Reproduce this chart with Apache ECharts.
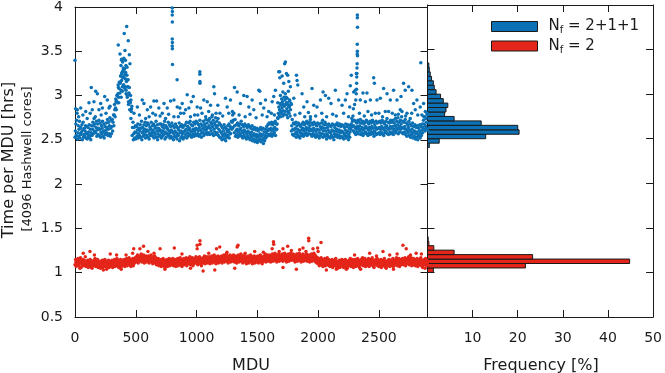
<!DOCTYPE html>
<html><head><meta charset="utf-8">
<script src="https://cdn.jsdelivr.net/npm/echarts@6/dist/echarts.min.js"></script>
<style>html,body{margin:0;padding:0;background:#fff}#c{width:665px;height:373px}</style>
</head><body><div id="c"></div>
<script>
// ---------- DATA ----------
const MDU_STEP = 10; // one value every 10 MDU, starting at MDU 0
const blueA = [
2.53,2.55,2.51,2.54,2.52,2.56,2.50,2.53,2.55,2.52,
2.51,2.54,2.52,2.50,2.55,2.57,2.60,2.58,2.54,2.56,
2.55,2.53,2.57,2.54,2.52,2.56,2.58,2.55,2.57,2.54,
2.57,2.60,2.66,2.76,2.84,2.92,2.98,3.03,3.06,3.10,
3.12,3.10,3.06,3.00,2.93,2.84,2.74,2.55,2.50,2.52,
2.51,2.54,2.52,2.55,2.53,2.50,2.54,2.56,2.52,2.55,
2.53,2.51,2.55,2.57,2.54,2.52,2.56,2.53,2.50,2.54,
2.55,2.52,2.54,2.56,2.51,2.53,2.57,2.55,2.52,2.54,
2.52,2.50,2.54,2.53,2.51,2.55,2.49,2.52,2.54,2.51,
2.53,2.56,2.52,2.54,2.57,2.55,2.53,2.56,2.54,2.57,
2.55,2.57,2.54,2.56,2.53,2.58,2.55,2.57,2.59,2.56,
2.58,2.56,2.60,2.57,2.55,2.59,2.56,2.58,2.55,2.53,
2.52,2.50,2.54,2.51,2.49,2.53,2.55,2.52,2.57,2.62,
2.64,2.58,2.54,2.56,2.53,2.55,2.57,2.54,2.52,2.55,
2.53,2.51,2.54,2.52,2.50,2.53,2.49,2.51,2.48,2.50,
2.47,2.49,2.51,2.48,2.50,2.46,2.49,2.52,2.54,2.56,
2.55,2.57,2.54,2.56,2.58,2.55,2.62,2.74,2.78,2.76,
2.80,2.77,2.79,2.82,2.78,2.75,2.80,2.77,2.60,2.56,
2.55,2.57,2.53,2.56,2.54,2.52,2.55,2.57,2.54,2.56,
2.58,2.55,2.57,2.60,2.56,2.54,2.57,2.55,2.53,2.56,
2.54,2.52,2.55,2.57,2.53,2.56,2.54,2.51,2.55,2.53,
2.52,2.55,2.53,2.50,2.54,2.56,2.53,2.55,2.52,2.54,
2.53,2.51,2.55,2.52,2.54,2.50,2.53,2.62,2.65,2.60,
2.58,2.56,2.59,2.57,2.60,2.56,2.58,2.55,2.57,2.59,
2.57,2.55,2.58,2.56,2.59,2.57,2.54,2.58,2.56,2.57,
2.58,2.56,2.59,2.57,2.55,2.58,2.60,2.57,2.56,2.59,
2.57,2.59,2.56,2.60,2.58,2.61,2.57,2.59,2.62,2.58,
2.57,2.59,2.56,2.54,2.58,2.55,2.53,2.56,2.52,2.54,
2.51,2.53,2.50,2.54,2.52,2.55,2.58,2.62,2.60,2.63,
2.61];
const blueB = [
2.60,2.72,2.58,2.62,2.57,2.59,2.61,2.56,2.60,2.58,
2.57,2.59,2.55,2.58,2.62,2.66,2.68,2.64,2.61,2.63,
2.62,2.59,2.63,2.60,2.58,2.61,2.64,2.62,2.66,2.63,
2.65,2.70,2.78,2.86,2.94,3.02,3.08,3.14,3.17,3.20,
3.22,3.19,3.16,3.10,3.03,2.94,2.82,2.64,2.57,2.59,
2.58,2.61,2.57,2.60,2.63,2.58,2.60,2.62,2.59,2.61,
2.60,2.57,2.62,2.59,2.61,2.58,2.63,2.60,2.57,2.60,
2.61,2.58,2.60,2.63,2.59,2.57,2.62,2.60,2.58,2.61,
2.59,2.57,2.60,2.58,2.56,2.61,2.58,2.60,2.57,2.59,
2.60,2.62,2.58,2.61,2.63,2.60,2.59,2.62,2.60,2.63,
2.62,2.60,2.64,2.61,2.59,2.63,2.61,2.65,2.62,2.64,
2.66,2.63,2.68,2.65,2.62,2.67,2.64,2.66,2.62,2.60,
2.58,2.56,2.60,2.57,2.55,2.59,2.61,2.58,2.63,2.70,
2.72,2.66,2.60,2.62,2.59,2.61,2.63,2.60,2.58,2.61,
2.59,2.57,2.60,2.58,2.56,2.59,2.55,2.57,2.54,2.56,
2.53,2.55,2.57,2.54,2.56,2.52,2.55,2.58,2.60,2.62,
2.61,2.63,2.60,2.62,2.64,2.61,2.68,2.80,2.84,2.82,
2.86,2.83,2.88,2.90,2.85,2.82,2.87,2.84,2.66,2.62,
2.61,2.63,2.59,2.62,2.60,2.58,2.61,2.63,2.60,2.62,
2.64,2.61,2.63,2.66,2.62,2.60,2.63,2.61,2.59,2.62,
2.61,2.58,2.62,2.64,2.60,2.63,2.60,2.57,2.61,2.59,
2.58,2.61,2.60,2.57,2.60,2.62,2.59,2.61,2.58,2.60,
2.59,2.57,2.61,2.58,2.60,2.56,2.59,2.68,2.71,2.66,
2.64,2.62,2.65,2.63,2.66,2.62,2.64,2.61,2.63,2.65,
2.63,2.61,2.64,2.62,2.65,2.63,2.60,2.64,2.62,2.63,
2.64,2.62,2.65,2.63,2.61,2.64,2.66,2.63,2.62,2.65,
2.63,2.65,2.62,2.66,2.64,2.67,2.63,2.65,2.68,2.64,
2.63,2.65,2.62,2.60,2.64,2.61,2.59,2.62,2.58,2.60,
2.57,2.59,2.56,2.60,2.58,2.61,2.64,2.68,2.66,2.70,
2.67];
const blueC = [
2.68,2.80,2.66,2.71,2.64,2.67,2.70,2.63,2.66,2.65,
2.64,2.67,2.62,2.66,2.70,2.74,2.76,2.71,2.68,2.72,
2.69,2.66,2.71,2.68,2.65,2.69,2.73,2.70,2.75,2.72,
2.73,2.78,2.84,2.93,3.00,3.09,3.15,3.22,3.26,3.28,
3.30,3.26,3.23,3.18,3.09,3.00,2.88,2.70,2.64,2.66,
2.65,2.68,2.63,2.67,2.71,2.64,2.67,2.70,2.66,2.69,
2.67,2.64,2.70,2.66,2.68,2.65,2.71,2.67,2.63,2.68,
2.68,2.65,2.67,2.71,2.66,2.64,2.70,2.67,2.65,2.69,
2.66,2.64,2.68,2.65,2.63,2.69,2.65,2.67,2.64,2.66,
2.67,2.70,2.65,2.69,2.71,2.67,2.66,2.70,2.68,2.71,
2.69,2.67,2.72,2.68,2.66,2.71,2.68,2.73,2.69,2.72,
2.74,2.70,2.76,2.72,2.69,2.75,2.71,2.74,2.69,2.67,
2.65,2.63,2.67,2.64,2.62,2.66,2.68,2.65,2.71,2.78,
2.80,2.73,2.67,2.69,2.66,2.68,2.71,2.67,2.65,2.68,
2.66,2.64,2.67,2.65,2.63,2.66,2.62,2.64,2.61,2.63,
2.60,2.62,2.64,2.61,2.63,2.59,2.62,2.65,2.67,2.69,
2.68,2.70,2.67,2.69,2.71,2.68,2.75,2.87,2.91,2.89,
2.93,2.90,2.95,2.98,2.92,2.89,2.94,2.91,2.73,2.69,
2.68,2.70,2.66,2.69,2.67,2.65,2.68,2.70,2.67,2.69,
2.71,2.68,2.70,2.73,2.69,2.67,2.70,2.68,2.66,2.69,
2.68,2.65,2.69,2.72,2.67,2.70,2.67,2.64,2.68,2.66,
2.65,2.68,2.67,2.64,2.67,2.69,2.66,2.68,2.65,2.67,
2.66,2.64,2.68,2.65,2.67,2.63,2.66,2.74,2.77,2.72,
2.71,2.69,2.72,2.70,2.73,2.69,2.71,2.68,2.70,2.72,
2.70,2.68,2.71,2.69,2.72,2.70,2.67,2.71,2.69,2.70,
2.71,2.69,2.72,2.70,2.68,2.71,2.74,2.70,2.69,2.72,
2.70,2.72,2.69,2.74,2.71,2.75,2.70,2.72,2.76,2.71,
2.70,2.73,2.69,2.67,2.71,2.68,2.66,2.69,2.65,2.67,
2.64,2.66,2.63,2.67,2.65,2.68,2.72,2.76,2.74,2.78,
2.75];
// sparse blue points above the band: [MDU, hours]
const blueExtra = [
[0,3.40],[5,2.85],[19,2.84],[30,2.76],[47,2.86],[65,2.78],[88,2.82],[100,2.74],[115,2.92],[125,2.80],[134,3.09],[142,2.84],[156,2.93],[170,3.05],[184,3.02],[197,2.84],[211,2.91],[215,2.78],[225,2.86],[244,2.99],[255,2.80],[266,2.95],[280,2.86],[288,2.88],
[325,2.90],[335,2.96],[345,3.00],[355,3.12],[356,3.57],[360,2.92],[365,3.15],[370,3.47],[375,3.22],[378,3.34],[380,2.98],[383,3.41],[384,3.40],[385,3.25],[390,3.05],[392,3.38],[395,3.28],[397,3.31],[400,3.12],[402,3.42],[405,3.70],[405,3.30],[410,3.08],[411,3.51],[415,3.24],[415,3.40],[419,3.34],[420,3.02],[425,3.78],[425,3.18],[428,3.32],[430,2.98],[435,3.10],[438,3.62],[440,2.90],[445,3.02],[447,3.46],[452,3.36],[455,2.92],[460,2.95],[465,2.85],
[485,2.80],[513,2.87],[530,2.78],[553,2.95],[567,2.91],[581,2.74],[595,2.84],[610,2.76],[622,2.87],[640,2.80],[649,2.94],[663,2.78],[671,2.94],[690,2.86],[700,2.77],[718,2.80],[732,2.91],[745,2.74],[759,2.86],[770,2.79],[786,2.94],
[800,3.99],[801,3.95],[800,3.91],[801,3.83],[800,3.64],[801,3.60],[800,3.56],[801,3.53],[802,3.35],[840,3.18],
[814,2.95],[814,2.76],[841,2.87],[850,2.76],[863,2.86],[869,2.80],[882,2.91],[895,2.80],[910,2.84],[923,3.01],[937,2.86],[950,2.76],[957,2.93],[973,2.99],[984,2.78],
[1005,2.87],[1010,2.78],[1027,3.27],[1027,3.24],[1028,3.16],[1028,3.14],[1033,2.86],[1045,2.80],[1060,2.95],[1075,2.76],[1088,2.93],[1100,2.82],[1115,2.89],[1130,2.78],[1142,3.10],[1148,3.02],[1160,2.80],[1175,2.89],[1192,2.80],[1215,2.77],[1238,2.97],[1252,2.87],[1265,2.80],[1279,2.95],[1295,2.82],[1312,3.09],[1334,3.04],[1350,2.78],[1361,2.91],[1389,3.00],[1400,2.76],[1416,2.99],[1430,2.87],[1440,2.79],[1457,2.95],[1471,2.84],[1490,2.75],[1512,3.06],[1520,3.05],[1526,2.91],[1540,2.78],[1553,2.86],[1567,2.95],[1580,2.76],[1594,2.82],[1615,2.80],[1622,2.93],[1635,2.99],[1640,2.78],[1649,3.06],
[1668,2.92],[1676,3.27],[1684,3.27],[1685,3.20],[1690,3.00],[1695,2.90],[1700,2.96],[1704,3.22],[1710,3.04],[1717,3.14],[1720,2.98],[1725,3.36],[1730,3.02],[1731,3.38],[1739,3.25],[1740,2.92],[1745,2.97],[1750,3.23],[1755,3.05],[1759,3.16],[1760,2.88],[1765,2.95],[1772,3.10],[1780,2.90],
[1800,2.97],[1810,2.78],[1822,3.23],[1827,3.17],[1833,3.12],[1850,2.80],[1868,3.02],[1882,2.87],[1890,2.76],[1909,2.93],[1920,2.81],[1937,2.76],[1950,3.08],[1964,2.89],[1980,2.77],
[1991,2.87],[2019,2.95],[2030,2.80],[2041,3.04],[2060,3.00],[2070,2.76],[2087,2.97],[2106,2.91],[2120,2.79],[2142,3.06],[2150,2.77],[2169,2.95],[2197,2.89],[2210,2.80],[2224,2.95],[2238,3.02],[2250,2.76],[2260,2.87],
[2265,3.11],[2273,3.23],[2290,2.85],[2293,3.04],[2300,2.90],[2306,3.06],[2310,2.95],[2314,3.02],[2315,3.25],[2316,3.07],[2317,3.14],[2318,3.21],[2319,3.25],[2320,3.31],[2321,3.36],[2322,3.58],[2322,3.47],[2323,3.91],[2323,3.88],[2323,3.50],[2324,3.77],[2324,3.45],
[2340,2.80],[2347,2.95],[2369,3.03],[2380,2.77],[2389,2.93],[2402,3.03],[2410,2.82],[2430,2.95],[2440,2.78],[2457,3.20],[2463,3.14],[2471,2.80],[2484,2.95],[2500,2.80],[2512,2.97],[2530,2.76],[2539,3.08],[2553,2.82],[2567,3.02],[2580,2.82],[2594,2.95],[2610,2.80],[2621,3.06],[2635,2.78],[2649,2.95],[2660,2.79],[2676,2.84],[2682,2.99],[2690,2.82],[2703,3.14],[2717,3.06],[2720,2.77],[2731,2.80],[2745,3.10],[2758,2.74],[2770,2.80],[2772,3.06],[2786,2.91],[2799,2.84],[2813,2.95],[2820,2.78],[2840,2.87],[2845,3.37],[2854,2.78],[2868,2.91],[2870,2.76],[2882,2.82],[2895,2.80]
];
const redA = [
1.09,1.07,1.10,1.08,1.11,1.06,1.09,1.08,1.10,1.07,
1.08,1.06,1.09,1.07,1.05,1.08,1.10,1.07,1.09,1.06,
1.07,1.05,1.08,1.06,1.09,1.07,1.04,1.08,1.06,1.07,
1.08,1.06,1.09,1.07,1.10,1.08,1.06,1.09,1.07,1.08,
1.09,1.07,1.10,1.08,1.11,1.09,1.07,1.10,1.08,1.11,
1.12,1.14,1.11,1.13,1.15,1.12,1.14,1.11,1.13,1.12,
1.13,1.11,1.14,1.12,1.10,1.13,1.11,1.09,1.10,1.08,
1.09,1.07,1.10,1.08,1.06,1.09,1.07,1.10,1.08,1.09,
1.10,1.08,1.09,1.07,1.10,1.08,1.11,1.09,1.07,1.10,
1.09,1.11,1.08,1.10,1.12,1.09,1.11,1.08,1.10,1.12,
1.11,1.09,1.12,1.10,1.08,1.11,1.13,1.10,1.12,1.11,
1.12,1.10,1.13,1.11,1.14,1.12,1.10,1.13,1.11,1.12,
1.13,1.11,1.14,1.12,1.15,1.13,1.11,1.14,1.12,1.13,
1.14,1.12,1.13,1.11,1.14,1.12,1.15,1.13,1.11,1.14,
1.12,1.10,1.13,1.11,1.14,1.12,1.10,1.13,1.11,1.12,
1.13,1.11,1.14,1.12,1.10,1.13,1.15,1.12,1.14,1.13,
1.14,1.12,1.15,1.13,1.16,1.14,1.12,1.15,1.13,1.14,
1.15,1.13,1.16,1.14,1.12,1.15,1.13,1.16,1.14,1.15,
1.14,1.12,1.15,1.13,1.16,1.14,1.12,1.15,1.13,1.14,
1.15,1.13,1.14,1.12,1.15,1.13,1.16,1.14,1.12,1.11,
1.10,1.08,1.11,1.09,1.07,1.10,1.08,1.11,1.09,1.08,
1.07,1.09,1.06,1.08,1.10,1.07,1.05,1.08,1.06,1.09,
1.08,1.06,1.09,1.07,1.05,1.08,1.10,1.07,1.09,1.06,
1.09,1.07,1.10,1.08,1.06,1.09,1.11,1.08,1.10,1.07,
1.08,1.10,1.07,1.09,1.11,1.08,1.06,1.09,1.10,1.08,
1.07,1.09,1.06,1.08,1.10,1.07,1.05,1.08,1.09,1.07,
1.08,1.10,1.07,1.09,1.11,1.08,1.10,1.07,1.09,1.10,
1.09,1.11,1.08,1.10,1.12,1.09,1.11,1.08,1.10,1.09,
1.08,1.10,1.07,1.09,1.11,1.08,1.06,1.09,1.10,1.08,
1.09];
const redB = [
1.15,1.13,1.16,1.14,1.17,1.12,1.15,1.14,1.18,1.13,
1.14,1.12,1.15,1.13,1.11,1.14,1.16,1.13,1.15,1.12,
1.13,1.11,1.14,1.12,1.15,1.13,1.10,1.14,1.12,1.13,
1.14,1.12,1.15,1.13,1.16,1.14,1.12,1.15,1.13,1.14,
1.15,1.13,1.16,1.14,1.17,1.15,1.13,1.16,1.14,1.17,
1.18,1.20,1.17,1.19,1.21,1.18,1.20,1.17,1.19,1.18,
1.19,1.17,1.20,1.18,1.16,1.19,1.17,1.15,1.16,1.14,
1.15,1.13,1.16,1.14,1.12,1.15,1.13,1.16,1.14,1.15,
1.16,1.14,1.15,1.13,1.16,1.14,1.17,1.15,1.13,1.16,
1.15,1.17,1.14,1.16,1.18,1.15,1.17,1.14,1.16,1.18,
1.17,1.15,1.18,1.16,1.14,1.17,1.19,1.16,1.18,1.17,
1.18,1.16,1.19,1.17,1.20,1.18,1.16,1.19,1.17,1.18,
1.19,1.17,1.20,1.18,1.21,1.19,1.17,1.20,1.18,1.19,
1.20,1.18,1.19,1.17,1.20,1.18,1.21,1.19,1.17,1.20,
1.18,1.16,1.19,1.17,1.20,1.18,1.16,1.19,1.17,1.18,
1.19,1.17,1.20,1.18,1.16,1.19,1.21,1.18,1.20,1.19,
1.20,1.18,1.21,1.19,1.22,1.20,1.18,1.21,1.19,1.20,
1.21,1.19,1.22,1.20,1.18,1.21,1.19,1.22,1.20,1.21,
1.20,1.18,1.21,1.19,1.22,1.20,1.18,1.21,1.19,1.20,
1.21,1.19,1.20,1.18,1.21,1.19,1.22,1.20,1.18,1.17,
1.16,1.14,1.17,1.15,1.13,1.16,1.14,1.17,1.15,1.14,
1.13,1.15,1.12,1.14,1.16,1.13,1.11,1.14,1.12,1.15,
1.14,1.12,1.15,1.13,1.11,1.14,1.16,1.13,1.15,1.12,
1.15,1.13,1.16,1.14,1.12,1.15,1.17,1.14,1.16,1.13,
1.14,1.16,1.13,1.15,1.17,1.14,1.12,1.15,1.16,1.14,
1.13,1.15,1.12,1.14,1.16,1.13,1.11,1.14,1.15,1.13,
1.14,1.16,1.13,1.15,1.17,1.14,1.16,1.13,1.15,1.16,
1.15,1.17,1.14,1.16,1.18,1.15,1.17,1.14,1.16,1.15,
1.14,1.16,1.13,1.15,1.17,1.14,1.12,1.15,1.16,1.14,
1.15];
const redC = [
1.12,1.10,1.13,1.11,1.14,1.09,1.12,1.11,1.13,1.10,
1.11,1.09,1.12,1.10,1.08,1.11,1.13,1.10,1.12,1.09,
1.10,1.08,1.11,1.09,1.12,1.10,1.07,1.11,1.09,1.10,
1.11,1.09,1.12,1.10,1.13,1.11,1.09,1.12,1.10,1.11,
1.12,1.10,1.13,1.11,1.14,1.12,1.10,1.13,1.11,1.14,
1.15,1.17,1.14,1.16,1.18,1.15,1.17,1.14,1.16,1.15,
1.16,1.14,1.17,1.15,1.13,1.16,1.14,1.12,1.13,1.11,
1.12,1.10,1.13,1.11,1.09,1.12,1.10,1.13,1.11,1.12,
1.13,1.11,1.12,1.10,1.13,1.11,1.14,1.12,1.10,1.13,
1.12,1.14,1.11,1.13,1.15,1.12,1.14,1.11,1.13,1.15,
1.14,1.12,1.15,1.13,1.11,1.14,1.16,1.13,1.15,1.14,
1.15,1.13,1.16,1.14,1.17,1.15,1.13,1.16,1.14,1.15,
1.16,1.14,1.17,1.15,1.18,1.16,1.14,1.17,1.15,1.16,
1.17,1.15,1.16,1.14,1.17,1.15,1.18,1.16,1.14,1.17,
1.15,1.13,1.16,1.14,1.17,1.15,1.13,1.16,1.14,1.15,
1.16,1.14,1.17,1.15,1.13,1.16,1.18,1.15,1.17,1.16,
1.17,1.15,1.18,1.16,1.19,1.17,1.15,1.18,1.16,1.17,
1.18,1.16,1.19,1.17,1.15,1.18,1.16,1.19,1.17,1.18,
1.17,1.15,1.18,1.16,1.19,1.17,1.15,1.18,1.16,1.17,
1.18,1.16,1.17,1.15,1.18,1.16,1.19,1.17,1.15,1.14,
1.13,1.11,1.14,1.12,1.10,1.13,1.11,1.14,1.12,1.11,
1.10,1.12,1.09,1.11,1.13,1.10,1.08,1.11,1.09,1.12,
1.11,1.09,1.12,1.10,1.08,1.11,1.13,1.10,1.12,1.09,
1.12,1.10,1.13,1.11,1.09,1.12,1.14,1.11,1.13,1.10,
1.11,1.13,1.10,1.12,1.14,1.11,1.09,1.12,1.13,1.11,
1.10,1.12,1.09,1.11,1.13,1.10,1.08,1.11,1.12,1.10,
1.11,1.13,1.10,1.12,1.14,1.11,1.13,1.10,1.12,1.13,
1.12,1.14,1.11,1.13,1.15,1.12,1.14,1.11,1.13,1.12,
1.11,1.13,1.10,1.12,1.14,1.11,1.09,1.12,1.13,1.11,
1.12];
const redExtra = [
[40,1.05],[68,1.22],[123,1.24],[160,1.20],[233,1.03],[290,1.21],[342,1.20],[380,1.04],[420,1.20],[474,1.22],[483,1.27],[534,1.27],[564,1.30],[600,1.24],[650,1.22],[700,1.27],[740,1.04],[817,1.28],[880,1.21],[950,1.05],
[1005,1.31],[1005,1.27],[1028,1.36],[1028,1.32],[1054,1.02],[1100,1.22],[1150,1.03],[1164,1.27],[1191,1.29],[1250,1.23],[1314,1.05],[1334,1.29],[1341,1.31],[1400,1.22],[1478,1.24],[1550,1.23],
[1622,1.27],[1633,1.35],[1635,1.32],[1680,1.24],[1711,1.27],[1711,1.06],[1750,1.30],[1780,1.25],[1821,1.04],[1848,1.26],[1876,1.28],[1900,1.24],[1922,1.39],[1923,1.36],[1958,1.27],[1996,1.28],[2000,1.24],[2024,1.34],
[2068,1.03],[2150,1.04],[2232,1.04],[2300,1.20],[2350,1.04],[2424,1.22],[2480,1.19],[2534,1.24],[2589,1.20],[2620,1.04],[2650,1.21],[2698,1.31],[2725,1.27],[2760,1.20],[2807,1.22],[2850,1.21],[2880,1.05]
];
// histograms: bin lower edge [hrs], frequency [%]
const BIN = 0.05;
const blueEdges = [2.40,2.45,2.50,2.55,2.60,2.65,2.70,2.75,2.80,2.85,2.90,2.95,3.00,3.05,3.10,3.15,3.20,3.25,3.30];
const blueFreq  = [0.4, 2.6, 12.9,20.3,20.0,11.9,5.9, 3.8, 4.1, 4.5, 3.5, 2.9, 1.9, 1.5, 1.3, 0.9, 0.6, 0.4, 0.3];
const redEdges  = [1.00,1.05,1.10,1.15,1.20,1.25,1.30,1.35];
const redFreq   = [1.3, 21.7,44.8,23.3,5.9, 1.4, 0.3, 0.15];
const xTicks = [0,500,1000,1500,2000,2500];
const NAME_BLUE = 'Nf = 2+1+1', NAME_RED = 'Nf = 2';

// ---------- CHART ----------
const BLUE = '#0b70b4', RED = '#e42519', INK = '#1a1a1a';
const FONT = 'DejaVu Sans';
const DOT = 3.5;
const pts = (arr, off) => arr.map((v, i) => [i * MDU_STEP + off, v]);
const hist = (edges, freq) => edges.map((e, i) => [e, +(e + BIN).toFixed(2), freq[i]]);

const frameAxis = (extra) => Object.assign({
  axisLine: {show: true, onZero: false, lineStyle: {color: INK, width: 1}},
  axisTick: {show: true, inside: true, length: 7, lineStyle: {color: INK}},
  splitLine: {show: false},
  axisLabel: {show: false}
}, extra);
const label = (extra) => Object.assign({show: true, color: INK, fontFamily: FONT, fontSize: 14}, extra);

const histRender = (color) => function (params, api) {
  const p0 = api.coord([0, api.value(0)]);
  const p1 = api.coord([api.value(2), api.value(1)]);
  return {type: 'rect',
    shape: {x: p0[0], y: p1[1], width: p1[0] - p0[0], height: p0[1] - p1[1]},
    style: {fill: color, stroke: INK, lineWidth: 1}};
};
const scatter = (name, data, color) => ({type: 'scatter', name, xAxisIndex: 0, yAxisIndex: 0, data,
  symbolSize: DOT, itemStyle: {color, opacity: 1}, clip: true});

const chart = echarts.init(document.getElementById('c'), null, {renderer: 'canvas'});
chart.setOption({
  animation: false,
  backgroundColor: '#fff',
  grid: [
    {left: 75, top: 5, width: 352.5, height: 312},
    {left: 427.5, top: 5, width: 228, height: 312}
  ],
  xAxis: [
    frameAxis({gridIndex: 0, type: 'value', position: 'bottom', min: 0, max: 2900, interval: 500,
      axisLabel: label({margin: 14, formatter: v => xTicks.includes(v) ? String(v) : ''})}),
    frameAxis({gridIndex: 0, type: 'value', position: 'top', min: 0, max: 2900, interval: 500}),
    frameAxis({gridIndex: 1, type: 'value', position: 'bottom', min: 0, max: 50, interval: 10,
      axisLabel: label({margin: 14, formatter: v => v === 0 ? '' : String(v)})}),
    frameAxis({gridIndex: 1, type: 'value', position: 'top', min: 0, max: 50, interval: 10})
  ],
  yAxis: [
    frameAxis({gridIndex: 0, type: 'value', position: 'left', min: 0.5, max: 4, interval: 0.5,
      axisLabel: label({margin: 12})}),
    frameAxis({gridIndex: 0, type: 'value', position: 'right', min: 0.5, max: 4, interval: 0.5}),
    frameAxis({gridIndex: 1, type: 'value', position: 'left', min: 0.5, max: 4, interval: 0.5}),
    frameAxis({gridIndex: 1, type: 'value', position: 'right', min: 0.5, max: 4, interval: 0.5})
  ],
  legend: {
    orient: 'vertical', left: 486, top: 14, padding: 5, itemWidth: 46, itemHeight: 10, itemGap: 3,
    icon: 'rect', data: [NAME_BLUE, NAME_RED],
    itemStyle: {borderColor: INK, borderWidth: 1},
    formatter: n => n === NAME_BLUE ? '{n|N}{s|f}{n| = 2+1+1}' : '{n|N}{s|f}{n| = 2}',
    textStyle: {padding: [0, 0, 0, 6], color: INK, fontFamily: FONT,
      rich: {n: {fontSize: 15, fontFamily: FONT, color: INK, lineHeight: 18},
             s: {fontSize: 10, fontFamily: FONT, color: INK, lineHeight: 10, verticalAlign: 'bottom'}}}
  },
  series: [
    scatter('bA', pts(blueA, 0), BLUE),
    scatter('bB', pts(blueB, 3), BLUE),
    scatter('bC', pts(blueC, 7), BLUE),
    scatter('bX', blueExtra, BLUE),
    scatter('rA', pts(redA, 0), RED),
    scatter('rB', pts(redB, 5), RED),
    scatter('rC', pts(redC, 7), RED),
    scatter('rX', redExtra, RED),
    {type: 'custom', name: NAME_BLUE, xAxisIndex: 2, yAxisIndex: 2, itemStyle: {color: BLUE},
      data: hist(blueEdges, blueFreq), encode: {x: 2, y: [0, 1]}, renderItem: histRender(BLUE)},
    {type: 'custom', name: NAME_RED, xAxisIndex: 2, yAxisIndex: 2, itemStyle: {color: RED},
      data: hist(redEdges, redFreq), encode: {x: 2, y: [0, 1]}, renderItem: histRender(RED)}
  ],
  graphic: [
    {type: 'text', x: 9, y: 160, rotation: Math.PI / 2,
      style: {text: 'Time per MDU [hrs]', font: '16px "DejaVu Sans"', fill: INK, align: 'center', verticalAlign: 'middle'}},
    {type: 'text', x: 28, y: 159, rotation: Math.PI / 2,
      style: {text: '[4096 Hashwell cores]', font: '13px "DejaVu Sans"', fill: INK, align: 'center', verticalAlign: 'middle'}},
    {type: 'text', x: 251, y: 366,
      style: {text: 'MDU', font: '16px "DejaVu Sans"', fill: INK, align: 'center', verticalAlign: 'middle'}},
    {type: 'text', x: 541, y: 366,
      style: {text: 'Frequency [%]', font: '16px "DejaVu Sans"', fill: INK, align: 'center', verticalAlign: 'middle'}}
  ]
});
</script></body></html>
